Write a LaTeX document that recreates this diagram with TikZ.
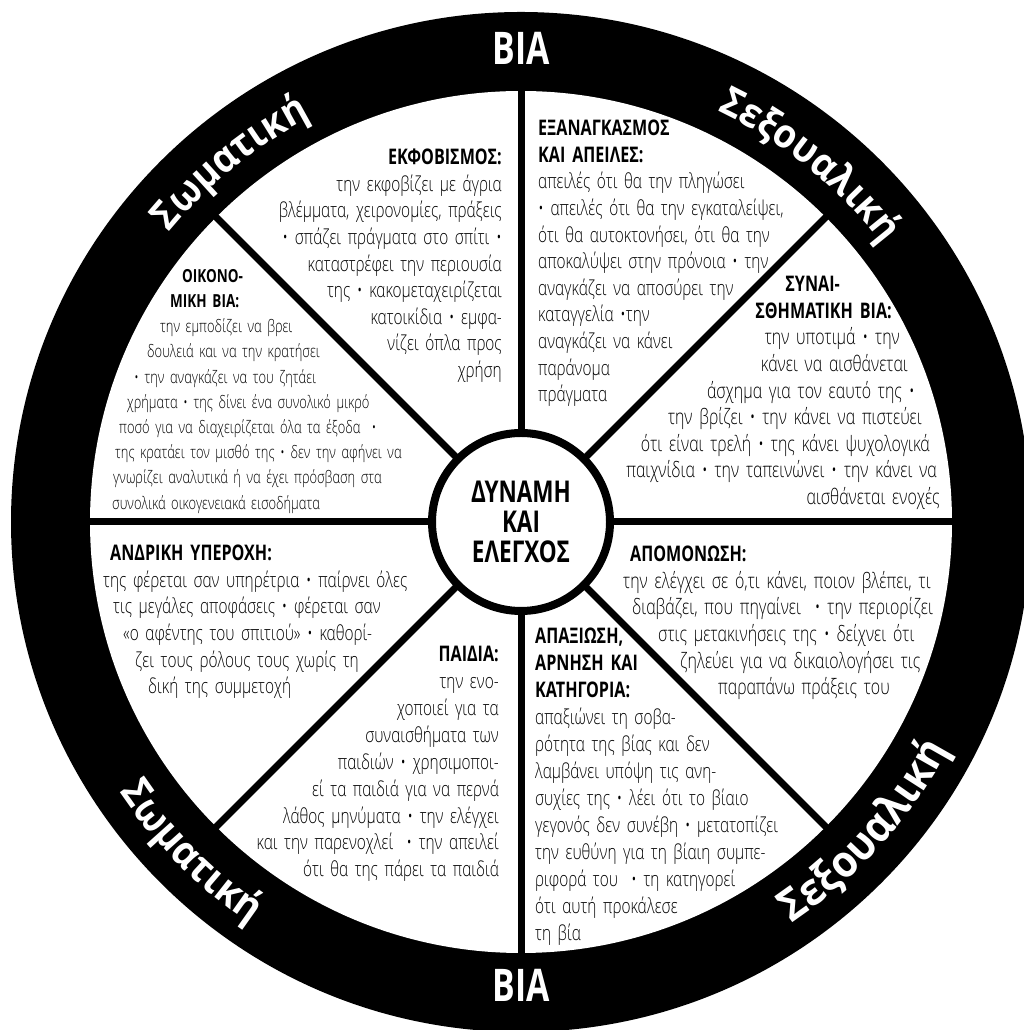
\documentclass[tikz,border=0pt]{standalone}
\usepackage{fontspec}
\IfFontExistsTF{Open Sans Light}
  {\setmainfont{Open Sans}[UprightFont={* Light}, BoldFont={* Bold}, FakeStretch=0.75, WordSpace=1.65]}
  {\setmainfont{Open Sans}[FakeStretch=0.75, WordSpace=1.65]}
\newfontfamily\ringfont{Open Sans}[FakeStretch=0.92]
\usetikzlibrary{decorations.text}

% bold headings inside the text blocks
\newcommand\hdr[1]{{\fontsize{21.5}{\baselineskip}\selectfont\bfseries #1}}
\newcommand\hdrs[1]{{\fontsize{18}{\baselineskip}\selectfont\bfseries #1}}
% fixed space at the end of a right-aligned line
\newcommand\rpad[1]{\hbox to #1pt{}}

\begin{document}
\begin{tikzpicture}[x=1pt,y=1pt,
  body/.style={inner sep=0pt, font=\fontsize{20.5}{26.6}\selectfont},
  small/.style={inner sep=0pt, font=\fontsize{17.2}{25.2}\selectfont},
  divider/.style={line width=7pt, line cap=butt},
  hub/.style={circle, draw, line width=8pt, fill=white, minimum size=178pt,
              inner sep=0pt, align=center, font=\fontsize{30}{30}\selectfont\bfseries},
  ringtitle/.style={inner sep=0pt, text=white, font=\fontsize{45}{45}\selectfont\bfseries},
  ringarc/.style 2 args={decorate, decoration={text along path, text align=center,
              text={|\ringfont\bfseries\fontsize{#2}{#2}\selectfont\color{white}|#1}}}
]
\useasboundingbox (0,0) rectangle (1024,1030);
\clip (0,0) rectangle (1024,1030);
\fill[white] (0,0) rectangle (1024,1030);

\coordinate (C) at (521,508);

% outer ring
\fill[black] (C) circle (510);
\fill[white] (C) circle (431);

% the eight spokes
\foreach \a in {0,45,...,315}
  \draw[divider] ([shift={(\a:80)}]C) -- ([shift={(\a:433)}]C);

% hub
\node[hub] (hub) at (C) {ΔΥΝΑΜΗ\\ΚΑΙ\\ΕΛΕΓΧΟΣ};

% words along the ring
\path[ringarc={Σωματική}{40}] ([shift={(165:456)}]C) arc[start angle=165, end angle=93, radius=456];
\path[ringarc={Σεξουαλική}{40}] ([shift={(92:456)}]C) arc[start angle=92, end angle=10, radius=456];
\path[ringarc={Σωματική}{41}] ([shift={(188:484)}]C) arc[start angle=188, end angle=262, radius=484];
\path[ringarc={Σεξουαλική}{44}] ([shift={(-84:484)}]C) arc[start angle=-84, end angle=0, radius=484];

\begin{scope}[shift={(0,1030)}]
\node[ringtitle] (viatop) at (521,-48) {ΒΙΑ};
\node[ringtitle] (viabot) at (521,-985) {ΒΙΑ};

% upper left sector
\node[body, align=right, anchor=north east] (ekfov) at (502,-149) {%
\hdr{ΕΚΦΟΒΙΣΜΟΣ:}\\
την εκφοβίζει με άγρια\\
βλέμματα, χειρονομίες, πράξεις\\
• σπάζει πράγματα στο σπίτι •\\
καταστρέφει την περιουσία\\
της • κακομεταχειρίζεται\\
κατοικίδια • εμφα-\\
νίζει όπλα προς\\
χρήση};

% upper right sector
\node[body, align=left, anchor=north west] (exan) at (538,-120) {%
\hdr{ΕΞΑΝΑΓΚΑΣΜΟΣ}\\
\hdr{ΚΑΙ ΑΠΕΙΛΕΣ:}\\
απειλές ότι θα την πληγώσει\\
• απειλές ότι θα την εγκαταλείψει,\\
ότι θα αυτοκτονήσει, ότι θα την\\
αποκαλύψει στην πρόνοια • την\\
αναγκάζει να αποσύρει την\\
καταγγελία •την\\
αναγκάζει να κάνει\\
παράνομα\\
πράγματα};

% left upper sector
\node[small, align=left, anchor=north west] (oikon) at (112,-269) {%
\hspace*{70pt}\hdrs{ΟΙΚΟΝΟ-}\\
\hspace*{58pt}\hdrs{ΜΙΚΗ ΒΙΑ:}\\
\hspace*{48pt}την εμποδίζει να βρει\\
\hspace*{35pt}δουλειά και να την κρατήσει\\
\hspace*{22pt}• την αναγκάζει να του ζητάει\\
\hspace*{15pt}χρήματα • της δίνει ένα συνολικό μικρό\\
\hspace*{7pt}ποσό για να διαχειρίζεται όλα τα έξοδα \ •\\
\hspace*{3pt}της κρατάει τον μισθό της • δεν την αφήνει να\\
\hspace*{1pt}γνωρίζει αναλυτικά ή να έχει πρόσβαση στα\\
συνολικά οικογενειακά εισοδήματα};

% right upper sector
\node[body, align=right, anchor=north east, font=\fontsize{21.2}{26.6}\selectfont] (synai) at (940,-276) {%
\hdr{ΣΥΝΑΙ-}\rpad{100}\\
\hdr{ΣΘΗΜΑΤΙΚΗ ΒΙΑ:}\rpad{48}\\
την υποτιμά • την\rpad{40}\\
κάνει να αισθάνεται\rpad{32}\\
άσχημα για τον εαυτό της •\rpad{25}\\
την βρίζει • την κάνει να πιστεύει\rpad{18}\\
ότι είναι τρελή • της κάνει ψυχολογικά\rpad{10}\\
παιχνίδια • την ταπεινώνει • την κάνει να\rpad{3}\\
αισθάνεται ενοχές};

% left lower sector
\node[body, align=left, anchor=north west] (andr) at (103,-545) {%
\hspace*{7pt}\hdr{ΑΝΔΡΙΚΗ ΥΠΕΡΟΧΗ:}\\
της φέρεται σαν υπηρέτρια • παίρνει όλες\\
\hspace*{10pt}τις μεγάλες αποφάσεις • φέρεται σαν\\
\hspace*{20pt}«ο αφέντης του σπιτιού» • καθορί-\\
\hspace*{32pt}ζει τους ρόλους τους χωρίς τη\\
\hspace*{45pt}δική της συμμετοχή};

% right lower sector
\node[body, align=left, anchor=north west, font=\fontsize{21.2}{26.6}\selectfont] (apom) at (623,-546) {%
\hspace*{7pt}\hdr{ΑΠΟΜΟΝΩΣΗ:}\\
την ελέγχει σε ό,τι κάνει, ποιον βλέπει, τι\\
\hspace*{9pt}διαβάζει, που πηγαίνει \ • την περιορίζει\\
\hspace*{35pt}στις μετακινήσεις της • δείχνει ότι\\
\hspace*{57pt}ζηλεύει για να δικαιολογήσει τις\\
\hspace*{95pt}παραπάνω πράξεις του};

% lower left sector
\node[body, align=right, anchor=north east, font=\fontsize{20.5}{26.9}\selectfont] (paid) at (499,-646) {%
\hdr{ΠΑΙΔΙΑ:}\\
την ενο-\\
χοποιεί για τα\\
συναισθήματα των\\
παιδιών • χρησιμοποι-\\
εί τα παιδιά για να περνά\\
λάθος μηνύματα • την ελέγχει\\
και την παρενοχλεί \ • την απειλεί\\
ότι θα της πάρει τα παιδιά};

% lower right sector
\node[body, align=left, anchor=north west, font=\fontsize{20.5}{27.0}\selectfont] (apax) at (535,-628) {%
\hdr{ΑΠΑΞΙΩΣΗ,}\\
\hdr{ΑΡΝΗΣΗ ΚΑΙ}\\
\hdr{ΚΑΤΗΓΟΡΙΑ:}\\
απαξιώνει τη σοβα-\\
ρότητα της βίας και δεν\\
λαμβάνει υπόψη τις ανη-\\
συχίες της • λέει ότι το βίαιο\\
γεγονός δεν συνέβη • μετατοπίζει\\
την ευθύνη για τη βίαιη συμπε-\\
ριφορά του \ • τη κατηγορεί\\
ότι αυτή προκάλεσε\\
τη βία};
\end{scope}
\end{tikzpicture}
\end{document}
